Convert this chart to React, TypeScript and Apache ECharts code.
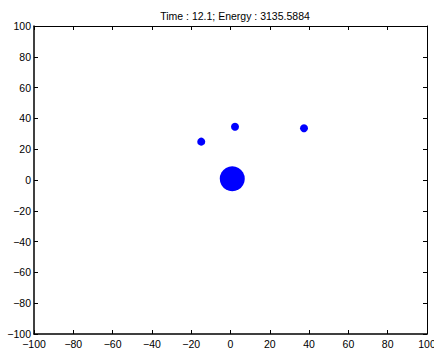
import React, { useEffect, useRef } from "react";
import * as echarts from "echarts";

const titleText = "Time : 12.1; Energy : 3135.5884";
const xValues = [0.9, -14.9, 2.3, 37.4];
const yValues = [0.8, 24.9, 34.6, 33.6];
const markerSizes = [25, 8, 8, 8];

const fmt = (v: number) => (v < 0 ? "\u2212" + Math.abs(v) : String(v));

export default function App() {
  const ref = useRef<HTMLDivElement>(null);
  useEffect(() => {
    if (!ref.current) return;
    const chart = echarts.init(ref.current, undefined, { renderer: "svg" });
    const font = "'Liberation Sans', Arial, Helvetica, sans-serif";
    const baseAxis = {
      min: -100,
      max: 100,
      interval: 20,
      splitLine: { show: false },
      axisTick: { show: true, inside: true, length: 4, lineStyle: { color: "#000", width: 1 } },
    };
    chart.setOption({
      animation: false,
      backgroundColor: "#fff",
      title: {
        text: titleText,
        left: 230,
        textAlign: "center",
        top: 5,
        textStyle: { fontFamily: font, fontSize: 10.5, fontWeight: "normal", color: "#000" },
      },
      grid: { left: 34, right: 7, top: 26, bottom: 15, containLabel: false, outerBoundsMode: "none" },
      xAxis: [
        {
          ...baseAxis,
          type: "value",
          position: "bottom",
          axisLine: { show: true, onZero: false, lineStyle: { color: "#000", width: 1.5 } },
          axisLabel: { show: true, formatter: fmt, color: "#000", fontFamily: font, fontSize: 10.5, margin: 4 },
        },
        {
          ...baseAxis,
          type: "value",
          position: "top",
          axisLine: { show: true, onZero: false, lineStyle: { color: "#000", width: 1 } },
          axisLabel: { show: false },
        },
      ],
      yAxis: [
        {
          ...baseAxis,
          type: "value",
          position: "left",
          axisLine: { show: true, onZero: false, lineStyle: { color: "#000", width: 1.5 } },
          axisLabel: { show: true, formatter: fmt, color: "#000", fontFamily: font, fontSize: 10.5, margin: 3 },
        },
        {
          ...baseAxis,
          type: "value",
          position: "right",
          axisLine: { show: true, onZero: false, lineStyle: { color: "#000", width: 1 } },
          axisLabel: { show: false },
        },
      ],
      series: [
        {
          type: "scatter",
          xAxisIndex: 0,
          yAxisIndex: 0,
          data: xValues.map((x, i) => [x, yValues[i], markerSizes[i]]),
          symbol: "circle",
          symbolSize: (d: number[]) => d[2],
          itemStyle: { color: "#0000ff", opacity: 1 },
        },
      ],
    });
    return () => chart.dispose();
  }, []);
  return (
    <div
      ref={ref}
      style={{ position: "fixed", left: 0, top: 0, width: 434, height: 349, background: "#fff" }}
    />
  );
}
